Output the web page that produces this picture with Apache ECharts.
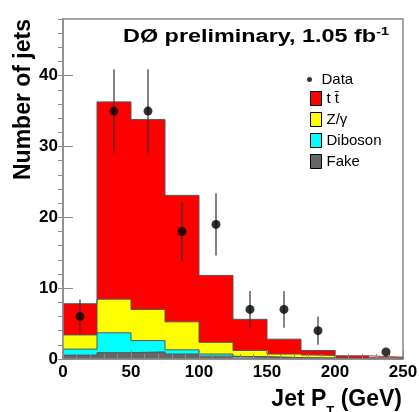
<!DOCTYPE html>
<html>
<head>
<meta charset="utf-8">
<script src="https://cdn.jsdelivr.net/npm/echarts@6/dist/echarts.min.js"></script>
<style>
  html, body { margin: 0; padding: 0; background: #fff; }
  #chart { width: 419px; height: 412px; }
</style>
</head>
<body>
<div id="chart"></div>
<script>
// Jet pT histogram: stacked expectations plus data with error bars
const binEdges = [0, 25, 50, 75, 100, 125, 150, 175, 200, 225, 250];
const binNames = ['0-25', '25-50', '50-75', '75-100', '100-125', '125-150', '150-175', '175-200', '200-225', '225-250'];

// Stacked components (bottom to top)
const fake    = [0.55, 0.9, 1.0, 0.7, 0.4, 0.25, 0.15, 0.1, 0.05, 0.03];
const diboson = [0.85, 2.8, 1.6, 0.6, 0.3, 0.1, 0.05, 0.05, 0.0, 0.0];
const zgamma  = [2.0, 4.75, 4.4, 3.95, 1.65, 0.85, 0.5, 0.35, 0.05, 0.02];
const ttbar   = [4.4, 27.85, 26.8, 17.85, 9.45, 4.4, 2.1, 0.7, 0.35, 0.2];

// Observed data
const dataX   = [12.5, 37.5, 62.5, 87.5, 112.5, 137.5, 162.5, 187.5, 237.5];
const dataY   = [6, 35, 35, 18, 19, 7, 7, 4, 1];
const dataErr = [2.4, 5.9, 5.9, 4.2, 4.4, 2.6, 2.6, 2.0, 0];

// Axis ticks
const xTicks = [0, 50, 100, 150, 200, 250];
const yTicks = [0, 10, 20, 30, 40];
const yMax = 48;
const yMinorStep = 2;
const xMinorSplit = 5;

const FONT = '"Liberation Sans", Arial, Helvetica, sans-serif';
const AXIS_COLOR = '#8a8a8a';
const EDGE_COLOR = '#555';

// cumulative stack levels for the step outlines
function cumulative(arrays) {
  return binNames.map((_, i) => arrays.reduce((s, a) => s + a[i], 0));
}
function stepData(levels) {
  const pts = levels.map((v, i) => [binEdges[i], v]);
  pts.push([binEdges[binEdges.length - 1], levels[levels.length - 1]]);
  return pts;
}
const lvlFake = cumulative([fake]);
const lvlDib = cumulative([fake, diboson]);
const lvlZ = cumulative([fake, diboson, zgamma]);
const lvlTT = cumulative([fake, diboson, zgamma, ttbar]);

function outline(levels) {
  return {
    type: 'line', xAxisIndex: 0, yAxisIndex: 0, step: 'end',
    data: stepData(levels), showSymbol: false, silent: true, z: 3,
    lineStyle: { color: EDGE_COLOR, width: 1 }
  };
}
function histBar(name, values, color) {
  return {
    name: name, type: 'bar', xAxisIndex: 1, yAxisIndex: 0, stack: 'mc',
    data: values, barWidth: '100%', barCategoryGap: '0%', silent: true, z: 2,
    itemStyle: { color: color, borderWidth: 0 }
  };
}

const chart = echarts.init(document.getElementById('chart'), null, { renderer: 'canvas' });

chart.setOption({
  backgroundColor: '#fff',
  animation: false,
  textStyle: { fontFamily: FONT },
  grid: {
    left: 63, right: 16, top: 19, bottom: 53,
    containLabel: false, outerBoundsMode: 'none',
    show: true, borderColor: AXIS_COLOR, borderWidth: 1.5, backgroundColor: 'transparent'
  },
  graphic: [{
    // plot title
    type: 'text', x: 123, y: 26, scaleX: 1.3, originX: 0, originY: 0, z: 10,
    style: {
      text: '{m|DØ preliminary, 1.05 fb}{s|-1}',
      fill: '#000',
      rich: {
        m: { fontSize: 18, fontWeight: 'bold', fontFamily: FONT, lineHeight: 20, verticalAlign: 'bottom' },
        s: { fontSize: 11, fontWeight: 'bold', fontFamily: FONT, lineHeight: 20, verticalAlign: 'top' }
      }
    }
  }, {
    // x-axis title with subscript
    type: 'text', x: 402, y: 388, z: 10,
    style: {
      text: '{m|Jet P}{t|T}{m| (GeV)}',
      align: 'right', verticalAlign: 'top',
      fill: '#000',
      rich: {
        m: { fontSize: 23, fontWeight: 'bold', fontFamily: FONT, lineHeight: 24, verticalAlign: 'top' },
        t: { fontSize: 13, fontWeight: 'bold', fontFamily: FONT, lineHeight: 30, verticalAlign: 'bottom' }
      }
    }
  }],
  legend: [{
    data: [{ name: 'Data', icon: 'circle' }],
    orient: 'vertical', left: 302, top: 67, selectedMode: false,
    itemWidth: 14, itemHeight: 5,
    textStyle: { fontSize: 15, color: '#000', fontFamily: FONT }
  }, {
    data: ['t t\u0304', 'Z/γ', 'Diboson', 'Fake'],
    orient: 'vertical', left: 305, top: 86, selectedMode: false,
    icon: 'rect', itemWidth: 11, itemHeight: 14, itemGap: 6,
    itemStyle: { borderColor: '#000', borderWidth: 1 },
    textStyle: { fontSize: 15, color: '#000', fontFamily: FONT }
  }],
  xAxis: [{
    type: 'value', min: xTicks[0], max: xTicks[xTicks.length - 1],
    interval: xTicks[1] - xTicks[0], z: 5,
    axisLine: { show: true, onZero: false, lineStyle: { color: AXIS_COLOR, width: 1.5 } },
    axisTick: { show: true, inside: true, length: 9, lineStyle: { color: AXIS_COLOR } },
    minorTick: { show: true, splitNumber: xMinorSplit, length: 5, lineStyle: { color: AXIS_COLOR } },
    axisLabel: { fontSize: 17, fontWeight: 'bold', color: '#000', margin: 5, fontFamily: FONT },
    splitLine: { show: false }
  }, {
    type: 'category', data: binNames, show: false, boundaryGap: true
  }],
  yAxis: [{
    type: 'value', min: yTicks[0], max: yMax, interval: yTicks[1] - yTicks[0], z: 5,
    name: 'Number of jets', nameLocation: 'end', nameGap: 0, nameRotate: 90,
    nameTextStyle: {
      fontSize: 23, fontWeight: 'bold', color: '#000', fontFamily: FONT,
      align: 'right', verticalAlign: 'bottom', padding: [0, 0, 28, 0]
    },
    axisLine: { show: true, onZero: false, lineStyle: { color: AXIS_COLOR, width: 1.5 } },
    axisTick: { show: true, inside: true, length: 10, lineStyle: { color: AXIS_COLOR } },
    axisLabel: { fontSize: 17, fontWeight: 'bold', color: '#000', margin: 5, showMaxLabel: false, fontFamily: FONT,
      formatter: v => (yTicks.indexOf(v) >= 0 ? String(v) : '') },
    splitLine: { show: false }
  }, {
    type: 'value', min: yTicks[0], max: yMax, interval: yMinorStep, z: 5,
    axisLine: { show: false },
    axisTick: { show: true, inside: true, length: 5, lineStyle: { color: AXIS_COLOR } },
    axisLabel: { show: false },
    splitLine: { show: false }
  }],
  series: [
    histBar('Fake', fake, '#666666'),
    histBar('Diboson', diboson, '#00ffff'),
    histBar('Z/γ', zgamma, '#ffff00'),
    histBar('t t\u0304', ttbar, '#ff0000'),
    outline(lvlFake),
    outline(lvlDib),
    outline(lvlZ),
    outline(lvlTT),
    {
      type: 'custom', xAxisIndex: 0, yAxisIndex: 0, z: 6, silent: true,
      data: dataX.map((x, i) => [x, dataY[i], dataErr[i]]),
      renderItem: function (params, api) {
        const x = api.value(0), y = api.value(1), e = api.value(2);
        const lo = api.coord([x, y - e]);
        const hi = api.coord([x, y + e]);
        return {
          type: 'line',
          shape: { x1: lo[0], y1: lo[1], x2: hi[0], y2: hi[1] },
          style: { stroke: '#333', lineWidth: 1.2 }
        };
      }
    },
    {
      name: 'Data', type: 'scatter', xAxisIndex: 0, yAxisIndex: 0, z: 7, silent: true,
      data: dataX.map((x, i) => [x, dataY[i]]),
      symbol: 'circle', symbolSize: 9,
      itemStyle: { color: '#000' }
    }
  ]
});
</script>
</body>
</html>
